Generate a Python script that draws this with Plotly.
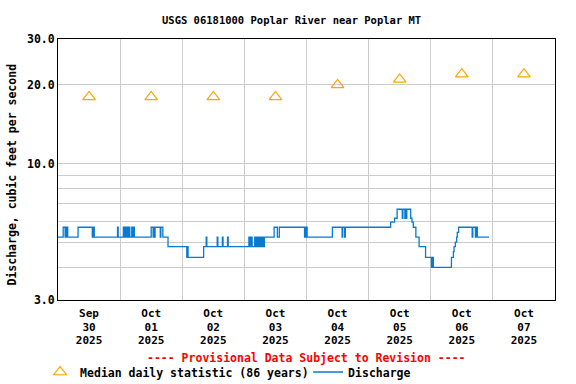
import math
import plotly.graph_objects as go

# ---------------- data ----------------
title_text = "USGS 06181000 Poplar River near Poplar MT"
y_title = "Discharge, cubic feet per second"
provisional = "---- Provisional Data Subject to Revision ----"

med_dates = ["2025-09-30 12:00", "2025-10-01 12:00", "2025-10-02 12:00", "2025-10-03 12:00",
             "2025-10-04 12:00", "2025-10-05 12:00", "2025-10-06 12:00", "2025-10-07 12:00"]
med_cfs = [18.0, 18.0, 18.0, 18.0, 20.0, 21.0, 22.0, 22.0]

dis_time = [
    "2025-09-30 00:00", "2025-09-30 02:00", "2025-09-30 02:45", "2025-09-30 03:15", "2025-09-30 03:45",
    "2025-09-30 07:45", "2025-09-30 13:15", "2025-09-30 13:30", "2025-09-30 14:00", "2025-09-30 23:00",
    "2025-09-30 23:15", "2025-10-01 01:15", "2025-10-01 01:30", "2025-10-01 01:45", "2025-10-01 02:00",
    "2025-10-01 02:15", "2025-10-01 02:30", "2025-10-01 02:45", "2025-10-01 03:00", "2025-10-01 03:30",
    "2025-10-01 03:45", "2025-10-01 04:30", "2025-10-01 04:45", "2025-10-01 05:15", "2025-10-01 05:30",
    "2025-10-01 12:00", "2025-10-01 12:45", "2025-10-01 13:00", "2025-10-01 13:15", "2025-10-01 13:30",
    "2025-10-01 15:30", "2025-10-01 15:45", "2025-10-01 16:30", "2025-10-01 18:30", "2025-10-02 01:45",
    "2025-10-02 02:00", "2025-10-02 02:15", "2025-10-02 08:15", "2025-10-02 09:15", "2025-10-02 09:30",
    "2025-10-02 13:30", "2025-10-02 13:45", "2025-10-02 15:30", "2025-10-02 15:45", "2025-10-02 17:30",
    "2025-10-02 17:45", "2025-10-03 01:45", "2025-10-03 02:00", "2025-10-03 02:15", "2025-10-03 02:30",
    "2025-10-03 02:45", "2025-10-03 03:00", "2025-10-03 04:00", "2025-10-03 04:15", "2025-10-03 04:30",
    "2025-10-03 04:45", "2025-10-03 05:00", "2025-10-03 05:15", "2025-10-03 05:30", "2025-10-03 05:45",
    "2025-10-03 06:00", "2025-10-03 06:15", "2025-10-03 06:30", "2025-10-03 06:45", "2025-10-03 07:00",
    "2025-10-03 07:15", "2025-10-03 07:45", "2025-10-03 11:30", "2025-10-03 12:45", "2025-10-03 13:30",
    "2025-10-03 23:15", "2025-10-03 23:30", "2025-10-03 23:45", "2025-10-04 00:00", "2025-10-04 00:15",
    "2025-10-04 10:00", "2025-10-04 13:45", "2025-10-04 14:00", "2025-10-04 14:45", "2025-10-04 15:00",
    "2025-10-05 08:30", "2025-10-05 10:00", "2025-10-05 11:00", "2025-10-05 13:00", "2025-10-05 13:15",
    "2025-10-05 14:00", "2025-10-05 14:15", "2025-10-05 14:30", "2025-10-05 14:45", "2025-10-05 16:15",
    "2025-10-05 16:45", "2025-10-05 17:15", "2025-10-05 18:15", "2025-10-05 19:30", "2025-10-05 22:00",
    "2025-10-06 00:15", "2025-10-06 00:30", "2025-10-06 01:00", "2025-10-06 08:00", "2025-10-06 08:45",
    "2025-10-06 09:00", "2025-10-06 09:30", "2025-10-06 10:00", "2025-10-06 10:15", "2025-10-06 10:45",
    "2025-10-06 16:00", "2025-10-06 16:15", "2025-10-06 17:15", "2025-10-06 17:30", "2025-10-06 18:00",
    "2025-10-06 22:30",
]
dis_cfs = [
    5.22, 5.7, 5.22, 5.7, 5.22,
    5.7, 5.22, 5.7, 5.22, 5.7,
    5.22, 5.7, 5.22, 5.7, 5.22,
    5.7, 5.22, 5.7, 5.22, 5.7,
    5.22, 5.7, 5.22, 5.7, 5.22,
    5.7, 5.22, 5.7, 5.22, 5.7,
    5.22, 5.7, 5.22, 4.8, 4.37,
    4.8, 4.37, 4.8, 5.22, 4.8,
    5.22, 4.8, 5.22, 4.8, 5.22,
    4.8, 5.22, 4.8, 5.22, 4.8,
    5.22, 4.8, 5.22, 4.8, 5.22,
    4.8, 5.22, 4.8, 5.22, 4.8,
    5.22, 4.8, 5.22, 4.8, 5.22,
    4.8, 5.22, 5.7, 5.22, 5.7,
    5.22, 5.7, 5.22, 5.7, 5.22,
    5.7, 5.22, 5.7, 5.22, 5.7,
    5.96, 6.17, 6.68, 6.17, 6.68,
    6.17, 6.68, 6.17, 6.68, 6.17,
    5.96, 5.7, 5.22, 4.8, 4.37,
    4.0, 4.37, 4.0, 4.37, 4.6,
    4.8, 5.0, 5.22, 5.45, 5.7,
    5.22, 5.7, 5.22, 5.7, 5.22,
    5.22,
]

x_label_pos = med_dates
x_label_month = ["Sep", "Oct", "Oct", "Oct", "Oct", "Oct", "Oct", "Oct"]
x_label_day = ["30", "01", "02", "03", "04", "05", "06", "07"]
x_label_year = ["2025", "2025", "2025", "2025", "2025", "2025", "2025", "2025"]
x_grid = ["2025-10-01", "2025-10-02", "2025-10-03", "2025-10-04", "2025-10-05", "2025-10-06", "2025-10-07"]
y_major = [3, 10, 20, 30]
y_major_text = ["3.0", "10.0", "20.0", "30.0"]
y_minor = [4, 5, 6, 7, 8, 9]

# ---------------- figure ----------------
FONT = "DejaVu Sans Mono"
GRID = "#cccccc"
FS = 11.5
XRANGE = ["2025-09-30 00:00", "2025-10-08 00:00"]

def bold(size=FS, color="black"):
    return dict(family=FONT, size=size, color=color, weight="bold")

fig = go.Figure()
fig.add_trace(go.Scatter(
    x=med_dates, y=med_cfs, mode="markers", name="Median daily statistic (86 years)",
    marker=dict(symbol="triangle-up-open", size=11, color="#FFA500", line=dict(width=1.2, color="#FFA500")),
))
fig.add_trace(go.Scatter(
    x=dis_time, y=dis_cfs, mode="lines", name="Discharge",
    line=dict(shape="hv", color="#0a7ad0", width=1.3),
))
# empty traces so the extra label axes are drawn
for ax in ("x2", "x3"):
    fig.add_trace(go.Scatter(x=[], y=[], xaxis=ax, yaxis="y", showlegend=False, hoverinfo="skip"))

fig.update_layout(
    width=576, height=384, autosize=False,
    margin=dict(l=58, r=21, t=39, b=84, autoexpand=False),
    paper_bgcolor="white", plot_bgcolor="white",
    font=bold(),
    title=dict(text=title_text, x=0.47, xref="paper", xanchor="center",
               y=1 - 20 / 384, yref="container", yanchor="middle", font=bold(10.5)),
    showlegend=True,
    legend=dict(orientation="h", x=-0.036, xanchor="left", y=(300 - 372) / 261, yanchor="middle",
                font=bold(), itemwidth=30, entrywidth=223, entrywidthmode="pixels",
                tracegroupgap=0, bgcolor="rgba(0,0,0,0)"),
    annotations=[
        dict(text=provisional, x=0.5, xref="paper", y=(300 - 358) / 261, yref="paper",
             xanchor="center", yanchor="middle", showarrow=False, font=bold(color="#ff0000")),
        dict(text=y_title, textangle=-90, x=(12 - 58) / 497, xref="paper", xanchor="center",
             y=(300 - 174.5) / 261, yref="paper", yanchor="middle", showarrow=False, font=bold()),
    ],
)

common_x = dict(type="date", range=XRANGE, tickmode="array", tickvals=x_label_pos, ticks="",
                showgrid=False, zeroline=False, automargin=False, tickfont=bold(11))
fig.update_layout(
    xaxis=dict(**common_x, ticktext=x_label_month, ticklabelstandoff=3,
               showline=True, linecolor="black", linewidth=1, mirror=True,
               minor=dict(tickmode="array", tickvals=x_grid, showgrid=True, gridcolor=GRID,
                          gridwidth=1, ticks="")),
    xaxis2=dict(**common_x, ticktext=x_label_day, overlaying="x", anchor="y", side="bottom",
                ticklabelstandoff=19, showline=False),
    xaxis3=dict(**common_x, ticktext=x_label_year, overlaying="x", anchor="y", side="bottom",
                ticklabelstandoff=32, showline=False),
    yaxis=dict(type="log", range=[math.log10(3), math.log10(30)],
               tickmode="array", tickvals=y_major, ticktext=y_major_text, ticks="",
               showgrid=True, gridcolor=GRID, gridwidth=1, zeroline=False, automargin=False,
               showline=True, linecolor="black", linewidth=1, mirror=True,
               tickfont=bold(),
               minor=dict(tickmode="array", tickvals=y_minor, showgrid=True, gridcolor=GRID,
                          gridwidth=1, ticks="")),
)

fig.write_html("out.html", config={"displayModeBar": False},
               post_script="document.body.style.margin='0';")
